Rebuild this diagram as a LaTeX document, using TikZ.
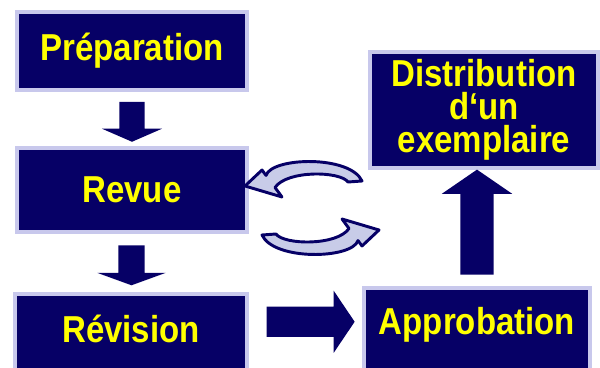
\documentclass[tikz,border=0pt]{standalone}
\usepackage{fontspec}
\setmainfont{Liberation Sans}[FakeStretch=0.88]
\usetikzlibrary{shapes, positioning, arrows.meta, calc}
\definecolor{navy}{RGB}{6,0,102}
\definecolor{jaune}{RGB}{255,255,0}
\definecolor{lavande}{RGB}{200,200,236}
\definecolor{bleupale}{RGB}{200,204,232}

\tikzset{
  phase/.style={rectangle, fill=navy, draw=lavande, line width=3pt, text=jaune, inner sep=0pt, align=center, font=\fontsize{32}{28}\selectfont\bfseries},
  bigarrow/.style={single arrow, fill=navy, inner xsep=0pt, single arrow head indent=0pt},
  curlarrow/.pic={
    \draw[draw=navy, fill=bleupale, line width=2.5pt, line join=round] (-46,10.6) .. controls (-40,29) and (38,31) .. (50,5) -- (36,4) .. controls (28,15) and (-25,16) .. (-37,-1.5) -- (-30,-11) -- (-67,0) -- (-50,16) -- cycle;
  }
}

\begin{document}
\begin{tikzpicture}[x=0.03cm, y=0.03cm]
  \clip (0,0) rectangle (600,367);

  \node[phase, minimum width=6.9cm, minimum height=2.34cm] (prep) at (132,316) {Préparation};
  \node[phase, minimum width=6.9cm, minimum height=2.52cm] (revue) at (132,177) {Revue};
  \node[phase, anchor=north, minimum width=6.96cm, text height=1.47cm, text depth=2cm] (revision) at (131,75) {Révision};
  \node[phase, anchor=north, minimum width=6.78cm, text height=1.41cm, text depth=2cm] (approbation) at (477,81) {Approbation};
  \node[phase, minimum width=6.84cm, minimum height=3.48cm] (distribution) at (484,257) {Distribution\\d‘un\hspace*{0.7em}\\exemplaire};

  \node[bigarrow, rotate=-90, minimum height=1.2cm, inner ysep=0.375cm, single arrow head extend=0.525cm, single arrow tip angle=133] (fl1) at ($(prep.south)!.5!(revue.north)$) {};
  \node[bigarrow, rotate=-90, minimum height=1.2cm, inner ysep=0.39cm, single arrow head extend=0.63cm, single arrow tip angle=140] (fl2) at ($(revue.south)!.5!(revision.north)$) {};
  \node[bigarrow, minimum height=2.64cm, inner ysep=0.45cm, single arrow head extend=0.48cm, single arrow tip angle=112] (fl3) at ($(revision.base east)!.5!(approbation.base west)+(0,17)$) {};
  \node[bigarrow, rotate=90, minimum height=3.15cm, inner ysep=0.495cm, single arrow head extend=0.555cm, single arrow tip angle=111] (fl4) at ($(approbation.north)!.5!(approbation.north |- distribution.south)$) {};

  \pic (boucleh) at (312,181) {curlarrow};
  \pic[rotate=180] (boucleb) at (312,137) {curlarrow};
\end{tikzpicture}
\end{document}
